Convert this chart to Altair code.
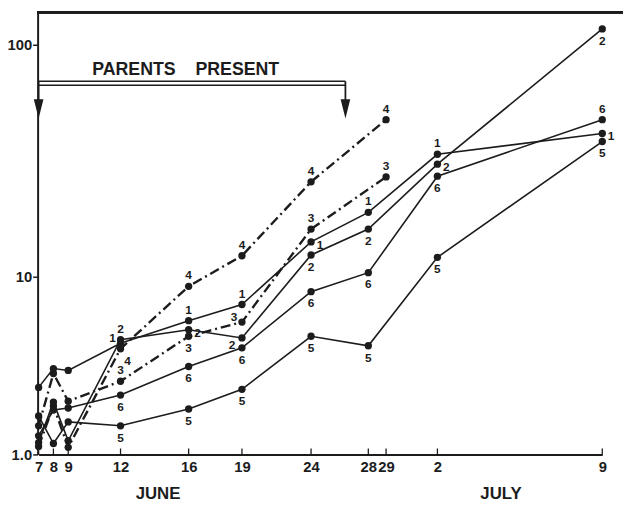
import altair as alt
import pandas as pd

# ---------------- data ----------------
days = [7, 8, 9, 12, 16, 19, 24, 28, 29, 32, 39]          # day counted from June 1 (July 2 = 32)
s1 = [2.8, 3.55, 3.47, 4.8, 6.2, 7.4, 14.3, 19.3, None, 34.4, 42.2]
s2 = [1.24, 2.30, 1.28, 5.0, 5.6, 5.1, 12.5, 16.3, None, 31.2, 116.6]
s3 = [1.63, 3.34, 2.33, 3.03, 5.2, 6.1, 16.3, None, 27.5, None, None]
s4 = [1.16, 2.18, 1.14, 4.5, 9.0, 12.4, 26.2, None, 48.3, None, None]
s5 = [1.89, 1.22, 1.73, 1.63, 2.09, 2.73, 5.2, 4.66, None, 12.2, 39.0]
s6 = [1.39, 2.06, 2.12, 2.53, 3.64, 4.55, 8.5, 10.4, None, 27.7, 48.3]
series_names = ["1", "2", "3", "4", "5", "6"]
series_values = [s1, s2, s3, s4, s5, s6]
dash_series = ["3", "4"]
y_ticks = [1, 10, 100]
parents_days = [7, 26.4]
parents_text = "PARENTS\u00a0\u00a0\u00a0\u00a0PRESENT"
months = ["JUNE", "JULY"]
month_days = [14.2, 34.7]
first_labelled_day = 12

# ---------------- layout / style ----------------
INK = "#1c1c1c"
FONT = "Liberation Sans"
W, H = 593, 448
# the hand-drawn time axis is not evenly spaced: piecewise scale
x_range = [1, 16, 31, 84, 153, 207, 277, 335, 353, 405, 572]
default_place = {"1": "above", "2": "below", "3": "above", "4": "above", "5": "below", "6": "below"}
place_override = {("1", 12): "left", ("2", 12): "above", ("4", 12): "belowright",
                  ("2", 16): "right", ("3", 16): "below", ("3", 19): "left",
                  ("2", 19): "belowleft",
                  ("1", 24): "right", ("2", 32): "right", ("6", 39): "above",
                  ("1", 39): "right"}
offsets = {"above": (0, -11), "below": (0, 12), "right": (9, 3), "left": (-8, -5),
           "belowright": (7, 12), "belowleft": (-10, 7)}

rows = []
for name, vals in zip(series_names, series_values):
    for d, v in zip(days, vals):
        if v is None:
            continue
        rows.append({"series": name, "day": d, "value": v,
                     "dash": name in dash_series,
                     "show": d >= first_labelled_day,
                     "place": place_override.get((name, d), default_place[name])})
df = pd.DataFrame(rows)

xs = alt.Scale(domain=days, range=x_range, nice=False, zero=False)
ys = alt.Scale(type="symlog", constant=1, domain=[1, 137], nice=False, zero=False)

x_axis = alt.Axis(values=days, labelExpr="datum.value > 30 ? datum.value - 30 : datum.value",
                  title=None, grid=False, tickSize=0, labelPadding=5, labelFontSize=15,
                  labelFontWeight="bold", labelOverlap=False, labelFlush=False,
                  domainWidth=2, domainColor=INK, labelColor=INK, labelFont=FONT)
y_axis = alt.Axis(values=y_ticks, labelExpr="datum.value == 1 ? '1.0' : format(datum.value, 'd')",
                  title=None, grid=False, tickSize=5, tickWidth=1.5, tickColor=INK,
                  labelPadding=1, labelFontSize=15, labelFontWeight="bold",
                  domainWidth=2, domainColor=INK, labelColor=INK, labelFont=FONT)


def X(field):
    return alt.X(field, type="quantitative", scale=xs, axis=x_axis)


Y = alt.Y("value:Q", scale=ys, axis=y_axis)

base = alt.Chart(df).encode(x=X("day"), y=Y, detail="series:N")
solid = base.transform_filter("!datum.dash").mark_line(color=INK, strokeWidth=1.6)
dashed = base.transform_filter("datum.dash").mark_line(color=INK, strokeWidth=2.4,
                                                       strokeDash=[10, 4, 2, 4])
points = base.mark_circle(color=INK, size=55, opacity=1)

label_layers = []
for p, (dx, dy) in offsets.items():
    label_layers.append(
        base.transform_filter(f"datum.show && datum.place == '{p}'")
        .mark_text(dx=dx, dy=dy, font=FONT, fontSize=12, fontWeight="bold", color=INK)
        .encode(text="series:N")
    )

tick_df = pd.DataFrame({"day": days})
ticks = alt.Chart(tick_df).mark_rule(color=INK, strokeWidth=1.3).encode(
    x=X("day"), y=alt.value(H), y2=alt.value(H - 6))

top_border = alt.Chart(tick_df).mark_rule(color=INK, strokeWidth=2).encode(
    x=alt.value(0), x2=alt.value(W), y=alt.value(0))

par_df = pd.DataFrame({"start": [parents_days[0]], "end": [parents_days[1]]})
par_pts = pd.DataFrame({"day": parents_days})
bracket_a = alt.Chart(par_df).mark_rule(color=INK, strokeWidth=1.5).encode(
    x=X("start"), x2="end:Q", y=alt.value(70))
bracket_b = alt.Chart(par_df).mark_rule(color=INK, strokeWidth=1.5).encode(
    x=X("start"), x2="end:Q", y=alt.value(74))
shafts = alt.Chart(par_pts).mark_rule(color=INK, strokeWidth=1.8).encode(
    x=X("day"), y=alt.value(70), y2=alt.value(92))
heads = alt.Chart(par_pts).mark_point(shape="M-0.5,-1L0.5,-1L0,1Z", filled=True, color=INK,
                                      opacity=1, size=380).encode(x=X("day"), y=alt.value(98))
par_text = alt.Chart(par_df).mark_text(font=FONT, fontSize=18, fontWeight="bold", color=INK,
                                       baseline="middle").encode(
    x=alt.value(150), y=alt.value(59), text=alt.value(parents_text))

month_df = pd.DataFrame({"month": months, "day": month_days})
month_text = alt.Chart(month_df).mark_text(font=FONT, fontSize=17, fontWeight="bold", color=INK,
                                           baseline="middle").encode(
    x=X("day"), y=alt.value(H + 40), text="month:N")

chart = alt.layer(
    top_border, ticks, solid, dashed, points, *label_layers,
    bracket_a, bracket_b, shafts, heads, par_text, month_text
).properties(
    width=W, height=H,
    autosize=alt.AutoSizeParams(type="none"),
    padding={"left": 30, "top": 1, "right": 0, "bottom": 48},
    background="white",
).configure_view(stroke=None)

chart.save("out.html", embed_options={"renderer": "svg", "actions": False})
